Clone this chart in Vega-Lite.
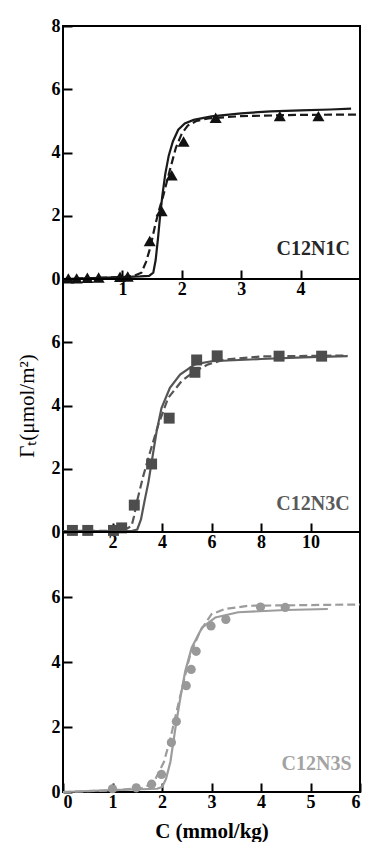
{
  "$schema": "https://vega.github.io/schema/vega-lite/v6.json",
  "background": "white",
  "padding": {"left": 15, "top": 16, "right": 5, "bottom": 5},
  "spacing": 0,
  "bounds": "flush",
  "config": {
    "view": {"stroke": "black", "strokeWidth": 2},
    "font": "Liberation Serif",
    "axis": {
      "labelFont": "Liberation Serif", "labelFontSize": 18, "labelFontWeight": "bold", "labelColor": "black",
      "domain": false, "grid": false, "tickColor": "black", "tickSize": -9, "tickWidth": 2,
      "titleFont": "Liberation Serif", "titleColor": "black"
    },
    "axisX": {"labelPadding": 10},
    "axisY": {"labelPadding": 12}
  },
  "vconcat": [
    {
      "width": 297, "height": 253,
      "data": {"values": [
        {"s":"pts","x":0.09,"y":0.02},{"s":"pts","x":0.23,"y":0.02},{"s":"pts","x":0.41,"y":0.04},{"s":"pts","x":0.6,"y":0.05},{"s":"pts","x":0.96,"y":0.07},{"s":"pts","x":1.09,"y":0.08},{"s":"pts","x":1.46,"y":1.2},{"s":"pts","x":1.66,"y":2.15},{"s":"pts","x":1.83,"y":3.28},{"s":"pts","x":2.03,"y":4.35},{"s":"pts","x":2.57,"y":5.1},{"s":"pts","x":3.65,"y":5.15},{"s":"pts","x":4.3,"y":5.15},
        {"s":"solid","x":0,"y":0.0},{"s":"solid","x":0.5,"y":0.03},{"s":"solid","x":1.0,"y":0.06},{"s":"solid","x":1.3,"y":0.08},{"s":"solid","x":1.45,"y":0.1},{"s":"solid","x":1.52,"y":0.2},{"s":"solid","x":1.56,"y":0.6},{"s":"solid","x":1.6,"y":1.3},{"s":"solid","x":1.63,"y":1.9},{"s":"solid","x":1.67,"y":2.6},{"s":"solid","x":1.72,"y":3.3},{"s":"solid","x":1.78,"y":3.9},{"s":"solid","x":1.85,"y":4.35},{"s":"solid","x":1.94,"y":4.72},{"s":"solid","x":2.05,"y":4.92},{"s":"solid","x":2.2,"y":5.03},{"s":"solid","x":2.5,"y":5.14},{"s":"solid","x":3.0,"y":5.24},{"s":"solid","x":3.5,"y":5.3},{"s":"solid","x":4.0,"y":5.33},{"s":"solid","x":4.5,"y":5.36},{"s":"solid","x":4.85,"y":5.39},
        {"s":"dash","x":0,"y":0.0},{"s":"dash","x":1.0,"y":0.06},{"s":"dash","x":1.2,"y":0.1},{"s":"dash","x":1.32,"y":0.2},{"s":"dash","x":1.4,"y":0.55},{"s":"dash","x":1.47,"y":1.0},{"s":"dash","x":1.55,"y":1.69},{"s":"dash","x":1.62,"y":2.2},{"s":"dash","x":1.69,"y":2.65},{"s":"dash","x":1.8,"y":3.45},{"s":"dash","x":1.9,"y":4.15},{"s":"dash","x":2.0,"y":4.6},{"s":"dash","x":2.1,"y":4.85},{"s":"dash","x":2.25,"y":5.0},{"s":"dash","x":2.45,"y":5.08},{"s":"dash","x":3.0,"y":5.15},{"s":"dash","x":4.0,"y":5.19},{"s":"dash","x":5.0,"y":5.2},
        {"s":"label","x":4.83,"y":0.77,"t":"C12N1C"}
      ]},
      "encoding": {
        "x": {"field":"x","type":"quantitative","scale":{"domain":[0,5],"nice":false,"zero":false},"axis":{"values":[1,2,3,4],"title":null}},
        "y": {"field":"y","type":"quantitative","scale":{"domain":[0,8],"nice":false},"axis":{"values":[0,2,4,6,8],"title":null}}
      },
      "layer": [
        {"transform":[{"filter":"datum.s==='solid'"}],"mark":{"type":"line","color":"#1a1a1a","strokeWidth":2.2}},
        {"transform":[{"filter":"datum.s==='dash'"}],"mark":{"type":"line","color":"#1a1a1a","strokeWidth":2.2,"strokeDash":[8,4]}},
        {"transform":[{"filter":"datum.s==='pts'"}],"mark":{"type":"point","shape":"triangle-up","filled":true,"color":"#111111","size":145,"opacity":1}},
        {"transform":[{"filter":"datum.s==='label'"}],"mark":{"type":"text","align":"right","baseline":"alphabetic","font":"Liberation Serif","fontSize":20,"fontWeight":"bold","color":"#262626"},"encoding":{"text":{"field":"t"}}}
      ]
    },
    {
      "width": 297, "height": 253,
      "data": {"values": [
        {"s":"pts","x":0.38,"y":0.05},{"s":"pts","x":1.0,"y":0.05},{"s":"pts","x":2.04,"y":0.05},{"s":"pts","x":2.37,"y":0.13},{"s":"pts","x":2.88,"y":0.85},{"s":"pts","x":3.58,"y":2.15},{"s":"pts","x":4.29,"y":3.6},{"s":"pts","x":5.33,"y":5.05},{"s":"pts","x":5.4,"y":5.44},{"s":"pts","x":6.23,"y":5.57},{"s":"pts","x":8.73,"y":5.56},{"s":"pts","x":10.45,"y":5.56},
        {"s":"solid","x":0,"y":0.03},{"s":"solid","x":2.0,"y":0.03},{"s":"solid","x":2.8,"y":0.04},{"s":"solid","x":3.0,"y":0.08},{"s":"solid","x":3.15,"y":0.4},{"s":"solid","x":3.3,"y":1.0},{"s":"solid","x":3.45,"y":1.57},{"s":"solid","x":3.58,"y":2.2},{"s":"solid","x":3.78,"y":3.17},{"s":"solid","x":3.98,"y":3.92},{"s":"solid","x":4.32,"y":4.56},{"s":"solid","x":4.73,"y":4.98},{"s":"solid","x":5.33,"y":5.3},{"s":"solid","x":6.0,"y":5.4},{"s":"solid","x":8.0,"y":5.47},{"s":"solid","x":10.0,"y":5.53},{"s":"solid","x":11.5,"y":5.56},
        {"s":"dash","x":0,"y":0.03},{"s":"dash","x":2.0,"y":0.04},{"s":"dash","x":2.5,"y":0.07},{"s":"dash","x":2.77,"y":0.19},{"s":"dash","x":2.87,"y":0.5},{"s":"dash","x":2.98,"y":0.94},{"s":"dash","x":3.25,"y":1.79},{"s":"dash","x":3.52,"y":2.53},{"s":"dash","x":3.85,"y":3.39},{"s":"dash","x":4.25,"y":4.24},{"s":"dash","x":4.79,"y":4.77},{"s":"dash","x":5.33,"y":5.09},{"s":"dash","x":5.87,"y":5.3},{"s":"dash","x":6.5,"y":5.45},{"s":"dash","x":8.0,"y":5.55},{"s":"dash","x":10.0,"y":5.57},{"s":"dash","x":11.5,"y":5.58},
        {"s":"label","x":11.58,"y":0.68,"t":"C12N3C"}
      ]},
      "encoding": {
        "x": {"field":"x","type":"quantitative","scale":{"domain":[0,12],"nice":false,"zero":false},"axis":{"values":[2,4,6,8,10],"title":null}},
        "y": {"field":"y","type":"quantitative","scale":{"domain":[0,8],"nice":false},"axis":{"values":[0,2,4,6],"title":"Γₜ(μmol/m²)","titleFontSize":21,"titleFontWeight":"normal","titlePadding":14}}
      },
      "layer": [
        {"transform":[{"filter":"datum.s==='solid'"}],"mark":{"type":"line","color":"#555555","strokeWidth":2.2}},
        {"transform":[{"filter":"datum.s==='dash'"}],"mark":{"type":"line","color":"#555555","strokeWidth":2.2,"strokeDash":[8,4]}},
        {"transform":[{"filter":"datum.s==='pts'"}],"mark":{"type":"point","shape":"square","filled":true,"color":"#4d4d4d","size":120,"opacity":1}},
        {"transform":[{"filter":"datum.s==='label'"}],"mark":{"type":"text","align":"right","baseline":"alphabetic","font":"Liberation Serif","fontSize":20,"fontWeight":"bold","color":"#5a5a5a"},"encoding":{"text":{"field":"t"}}}
      ]
    },
    {
      "width": 297, "height": 260,
      "data": {"values": [
        {"s":"pts","x":1.0,"y":0.1},{"s":"pts","x":1.48,"y":0.13},{"s":"pts","x":1.79,"y":0.24},{"s":"pts","x":1.99,"y":0.54},{"s":"pts","x":2.19,"y":1.52},{"s":"pts","x":2.29,"y":2.17},{"s":"pts","x":2.49,"y":3.27},{"s":"pts","x":2.59,"y":3.77},{"s":"pts","x":2.69,"y":4.33},{"s":"pts","x":2.99,"y":5.11},{"s":"pts","x":3.29,"y":5.31},{"s":"pts","x":3.99,"y":5.69},{"s":"pts","x":4.49,"y":5.68},
        {"s":"solid","x":0,"y":0.0},{"s":"solid","x":1.0,"y":0.06},{"s":"solid","x":1.9,"y":0.1},{"s":"solid","x":2.0,"y":0.15},{"s":"solid","x":2.08,"y":0.4},{"s":"solid","x":2.17,"y":0.93},{"s":"solid","x":2.27,"y":1.96},{"s":"solid","x":2.37,"y":2.89},{"s":"solid","x":2.47,"y":3.72},{"s":"solid","x":2.6,"y":4.44},{"s":"solid","x":2.81,"y":5.06},{"s":"solid","x":3.08,"y":5.37},{"s":"solid","x":3.54,"y":5.53},{"s":"solid","x":4.5,"y":5.6},{"s":"solid","x":5.35,"y":5.63},
        {"s":"dash","x":0,"y":0.0},{"s":"dash","x":1.0,"y":0.05},{"s":"dash","x":1.6,"y":0.12},{"s":"dash","x":1.75,"y":0.22},{"s":"dash","x":1.87,"y":0.41},{"s":"dash","x":2.04,"y":0.93},{"s":"dash","x":2.17,"y":1.65},{"s":"dash","x":2.31,"y":2.58},{"s":"dash","x":2.44,"y":3.41},{"s":"dash","x":2.57,"y":4.23},{"s":"dash","x":2.77,"y":4.95},{"s":"dash","x":3.0,"y":5.47},{"s":"dash","x":3.27,"y":5.63},{"s":"dash","x":3.75,"y":5.73},{"s":"dash","x":6.0,"y":5.77},
        {"s":"label","x":5.83,"y":0.68,"t":"C12N3S"}
      ]},
      "encoding": {
        "x": {"field":"x","type":"quantitative","scale":{"domain":[0,6],"nice":false,"zero":false},"axis":{"values":[0,1,2,3,4,5,6],"title":"C (mmol/kg)","titleFontSize":21,"titleFontWeight":"bold","titlePadding":9}},
        "y": {"field":"y","type":"quantitative","scale":{"domain":[0,8],"nice":false},"axis":{"values":[0,2,4,6],"title":null}}
      },
      "layer": [
        {"transform":[{"filter":"datum.s==='solid'"}],"mark":{"type":"line","color":"#9c9c9c","strokeWidth":2.2}},
        {"transform":[{"filter":"datum.s==='dash'"}],"mark":{"type":"line","color":"#9c9c9c","strokeWidth":2.2,"strokeDash":[8,4]}},
        {"transform":[{"filter":"datum.s==='pts'"}],"mark":{"type":"point","shape":"circle","filled":true,"color":"#999999","size":85,"opacity":1}},
        {"transform":[{"filter":"datum.s==='label'"}],"mark":{"type":"text","align":"right","baseline":"alphabetic","font":"Liberation Serif","fontSize":20,"fontWeight":"bold","color":"#a3a3a3"},"encoding":{"text":{"field":"t"}}}
      ]
    }
  ]
}
